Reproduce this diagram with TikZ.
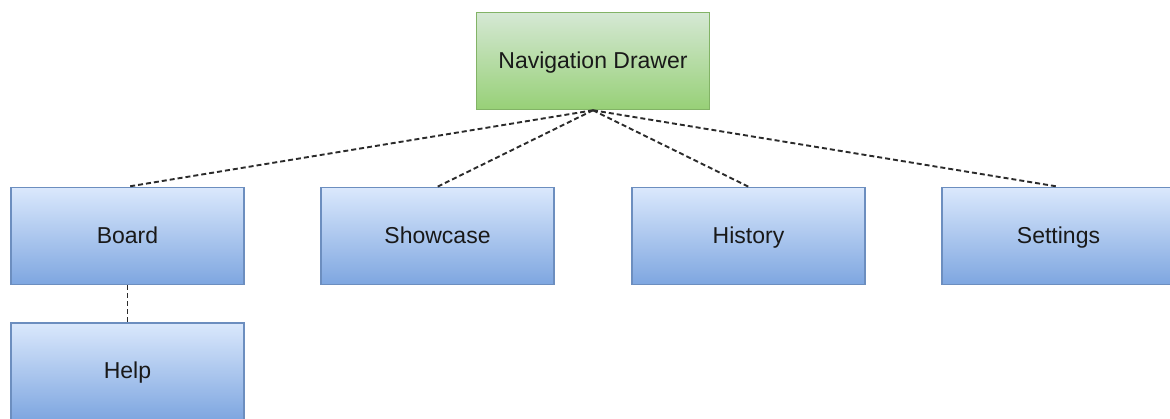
\documentclass[tikz,border=0pt]{standalone}
\usepackage{fontspec}
\setmainfont{Liberation Sans}
\definecolor{greentop}{HTML}{D5E8D4}
\definecolor{greenbot}{HTML}{97D077}
\definecolor{greenline}{HTML}{82B366}
\definecolor{bluetop}{HTML}{DAE8FC}
\definecolor{bluebot}{HTML}{7EA6E0}
\definecolor{blueline}{HTML}{6C8EBF}
\definecolor{linkgray}{HTML}{2B2B2B}
\tikzset{
  box/.style={draw, line width=1.6pt, minimum width=233pt, minimum height=97pt,
    inner sep=0pt, text height=16.5pt, text depth=1.5pt,
    font=\fontsize{23}{27}\selectfont, text=black!90},
  rootbox/.style={box, draw=greenline, top color=greentop, bottom color=greenbot},
  leafbox/.style={box, draw=blueline, top color=bluetop, bottom color=bluebot},
  link/.style={draw=linkgray, line width=1.9pt, dash pattern=on 5pt off 3pt}
}
\begin{document}
\begin{tikzpicture}[x=1pt, y=-1pt]
  \useasboundingbox (0,0) rectangle (1170,419);
  \node[rootbox] (nav) at (593,61) {Navigation Drawer};
  \node[leafbox] (board) at (127.5,236) {Board};
  \node[leafbox] (show) at (437.5,236) {Showcase};
  \node[leafbox] (hist) at (748.5,236) {History};
  \node[leafbox] (set) at (1058.5,236) {Settings};
  \node[leafbox] (help) at (127.5,371.5) {Help};
  \draw[link] (nav.south) -- (board.north);
  \draw[link] (nav.south) -- (show.north);
  \draw[link] (nav.south) -- (hist.north);
  \draw[link] (nav.south) -- (set.north);
  \draw[link] (board.south) -- (help.north);
\end{tikzpicture}
\end{document}
